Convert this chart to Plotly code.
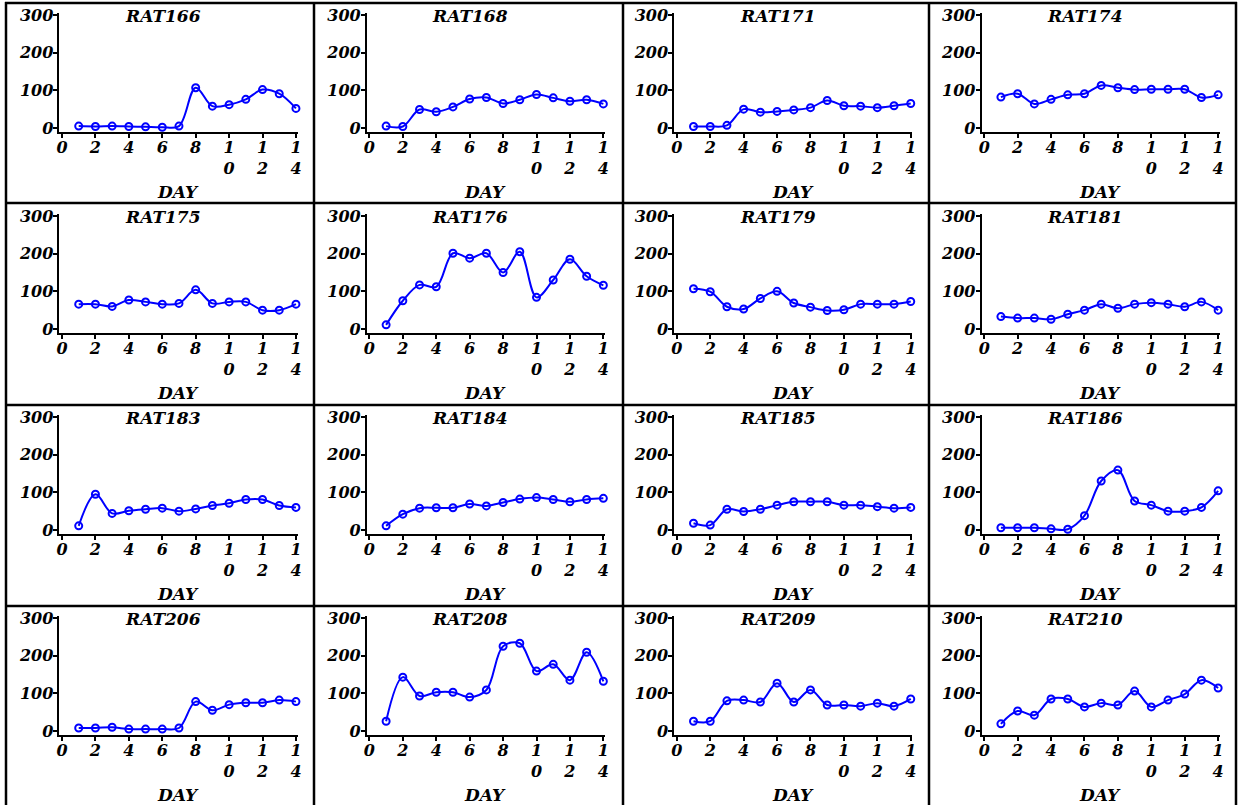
import plotly.graph_objects as go

W, H = 1242, 805

days = list(range(1, 15))
x_tickvals = [0, 2, 4, 6, 8, 10, 12, 14]
x_ticktext = ["0", "2", "4", "6", "8", "1<br>0", "1<br>2", "1<br>4"]
y_tickvals = [0, 100, 200, 300]
y_ticktext = ["0", "100", "200", "300"]

rat_names = ["RAT166", "RAT168", "RAT171", "RAT174",
             "RAT175", "RAT176", "RAT179", "RAT181",
             "RAT183", "RAT184", "RAT185", "RAT186",
             "RAT206", "RAT208", "RAT209", "RAT210"]

rat166 = [5, 4, 5, 4, 3, 2, 5, 107, 58, 62, 76, 102, 91, 52]
rat168 = [5, 4, 49, 43, 56, 77, 81, 65, 75, 89, 80, 71, 75, 64]
rat171 = [4, 4, 7, 50, 42, 44, 48, 54, 73, 59, 58, 54, 59, 65]
rat174 = [82, 91, 64, 76, 88, 91, 113, 107, 102, 103, 103, 103, 81, 88]
rat175 = [66, 66, 60, 77, 72, 66, 68, 104, 68, 72, 72, 50, 50, 66]
rat176 = [11, 75, 117, 112, 201, 188, 201, 150, 205, 84, 130, 185, 140, 116]
rat179 = [107, 99, 59, 53, 81, 100, 69, 58, 49, 51, 66, 66, 66, 73]
rat181 = [33, 29, 29, 26, 39, 50, 66, 55, 66, 70, 66, 59, 72, 50]
rat183 = [11, 95, 44, 51, 55, 58, 50, 56, 65, 71, 81, 81, 65, 60]
rat184 = [11, 42, 58, 59, 59, 69, 64, 73, 82, 86, 81, 75, 81, 84]
rat185 = [18, 13, 55, 49, 55, 66, 75, 75, 75, 66, 66, 62, 58, 60]
rat186 = [6, 6, 6, 3, 2, 38, 130, 159, 77, 66, 50, 50, 60, 104]
rat206 = [8, 8, 10, 5, 5, 5, 8, 78, 55, 70, 75, 75, 82, 78]
rat208 = [26, 143, 93, 103, 103, 90, 109, 225, 233, 159, 177, 135, 209, 132]
rat209 = [26, 26, 80, 82, 77, 127, 77, 109, 69, 69, 66, 74, 66, 85]
rat210 = [19, 53, 42, 85, 85, 64, 74, 69, 106, 64, 82, 98, 135, 114]

series = [rat166, rat168, rat171, rat174, rat175, rat176, rat179, rat181,
          rat183, rat184, rat185, rat186, rat206, rat208, rat209, rat210]

# layout geometry (pixels)
col_zero_px = [62, 369.4, 676.8, 984.2]
row_zero_px = [128, 329, 530, 731]
ppd = 16.71     # px per day
ppu = 0.3767    # px per unit
xr = [-0.15, 14.1]
yr = [-10, 305]

FONT = "DejaVu Serif"
BLUE = "#0000FF"

fig = go.Figure()
layout = {}
annotations = []

for i, (name, vals) in enumerate(zip(rat_names, series)):
    r, c = divmod(i, 4)
    n = i + 1
    xa = "xaxis" if n == 1 else f"xaxis{n}"
    ya = "yaxis" if n == 1 else f"yaxis{n}"
    xref = "x" if n == 1 else f"x{n}"
    yref = "y" if n == 1 else f"y{n}"
    cz, rz = col_zero_px[c], row_zero_px[r]
    x0 = (cz + xr[0] * ppd) / W
    x1 = (cz + xr[1] * ppd) / W
    ytop = rz - yr[1] * ppu
    ybot = rz - yr[0] * ppu
    common = dict(showgrid=False, zeroline=False, showline=True, linecolor="black",
                  linewidth=2, ticks="outside", ticklen=4, tickwidth=2, tickcolor="black",
                  tickfont=dict(family=FONT, size=16, color="black", weight="bold", style="italic"),
                  fixedrange=True, automargin=False)
    layout[xa] = dict(domain=[x0, x1], range=xr, anchor=yref, ticklabelstandoff=-4,
                      tickmode="array", tickvals=x_tickvals, ticktext=x_ticktext, **common)
    layout[ya] = dict(domain=[1 - ybot / H, 1 - ytop / H], range=yr, anchor=xref,
                      ticklabelstandoff=-3,
                      tickmode="array", tickvals=y_tickvals, ticktext=y_ticktext, **common)
    fig.add_trace(go.Scatter(x=days, y=vals, mode="lines+markers", xaxis=xref, yaxis=yref,
                             line=dict(color=BLUE, width=2, shape="spline", smoothing=1),
                             marker=dict(symbol="circle-open", size=7, color=BLUE,
                                         line=dict(width=2, color=BLUE)),
                             cliponaxis=False, showlegend=False, hoverinfo="skip"))
    annotations.append(dict(text=name, xref="paper", yref="paper",
                            x=(cz + 101) / W, y=1 - (rz - 112) / H,
                            xanchor="center", yanchor="middle", showarrow=False,
                            font=dict(family=FONT, size=17, color="black", weight="bold", style="italic")))
    annotations.append(dict(text="DAY", xref="paper", yref="paper",
                            x=(cz + 116) / W, y=1 - (rz + 63.5) / H,
                            xanchor="center", yanchor="middle", showarrow=False,
                            font=dict(family=FONT, size=17, color="black", weight="bold", style="italic")))

shapes = []
vlines = [6, 314, 623, 929, 1236]
hlines = [3, 203, 405, 606]
for xv in vlines:
    shapes.append(dict(type="line", xref="paper", yref="paper", x0=xv / W, x1=xv / W,
                       y0=0, y1=1 - 2 / H, line=dict(color="black", width=2.5)))
for yv in hlines:
    shapes.append(dict(type="line", xref="paper", yref="paper", x0=5 / W, x1=1237 / W,
                       y0=1 - yv / H, y1=1 - yv / H, line=dict(color="black", width=2.5)))

fig.update_layout(**layout)
fig.update_layout(width=W, height=H, autosize=False, margin=dict(l=0, r=0, t=0, b=0, pad=0),
                  paper_bgcolor="white", plot_bgcolor="white",
                  annotations=annotations, shapes=shapes, showlegend=False)

fig.write_html("out.html")
